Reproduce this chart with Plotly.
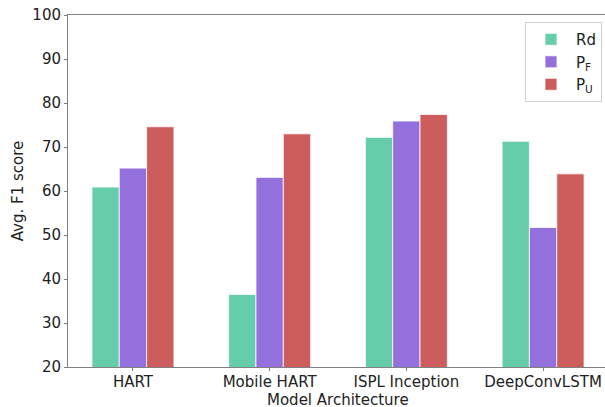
import plotly.graph_objects as go

categories = ["HART", "Mobile HART", "ISPL Inception", "DeepConvLSTM"]
rd_values = [60.9, 36.5, 72.2, 71.3]
pf_values = [65.2, 63.1, 75.9, 51.7]
pu_values = [74.6, 73.0, 77.4, 63.9]

series = [
    ("Rd", rd_values, "#66CDAA"),
    ("P<sub>F</sub>", pf_values, "#9370DB"),
    ("P<sub>U</sub>", pu_values, "#CD5C5C"),
]

xs = list(range(len(categories)))
fig = go.Figure()
for name, vals, color in series:
    fig.add_trace(go.Bar(
        x=xs, y=vals, name=name,
        marker=dict(color=color, line=dict(color="rgba(255,255,255,0.8)", width=1)),
    ))

font = "DejaVu Sans"
fig.update_layout(
    width=605, height=407,
    margin=dict(l=68, r=0, t=15, b=40),
    paper_bgcolor="white", plot_bgcolor="white",
    barmode="group", bargap=0.4, bargroupgap=0,
    font=dict(family=font, size=15, color="#222"),
    showlegend=True,
    legend=dict(
        x=0.9944, y=0.98, xanchor="right", yanchor="top",
        bgcolor="rgba(255,255,255,0.9)", bordercolor="#d0d0d0", borderwidth=1,
        font=dict(family=font, size=15, color="#222"),
        itemwidth=40, tracegroupgap=2,
    ),
    xaxis=dict(
        tickmode="array", tickvals=xs, ticktext=categories,
        range=[-0.475, 3.453], automargin=False,
        showline=True, linecolor="#808080", linewidth=1, mirror=True,
        ticks="outside", ticklen=3, tickcolor="#808080",
        ticklabelstandoff=-2,
        showgrid=False, zeroline=False,
        tickfont=dict(size=15),
    ),
    yaxis=dict(
        range=[20, 100], tickmode="array", tickvals=list(range(20, 101, 10)),
        automargin=False,
        showline=True, linecolor="#808080", linewidth=1,
        ticks="outside", ticklen=3, tickcolor="#808080",
        showgrid=False, zeroline=False,
        title=dict(text="Avg. F1 score", standoff=5, font=dict(size=15)),
        tickfont=dict(size=15),
    ),
    annotations=[dict(
        text="Model Architecture", xref="paper", yref="paper",
        x=0.503, y=0, xanchor="center", yanchor="top", yshift=-22,
        showarrow=False, font=dict(family=font, size=15, color="#222"),
    )],
)

fig.write_html("out.html", config={"displayModeBar": False},
               post_script="document.body.style.margin='0';")
